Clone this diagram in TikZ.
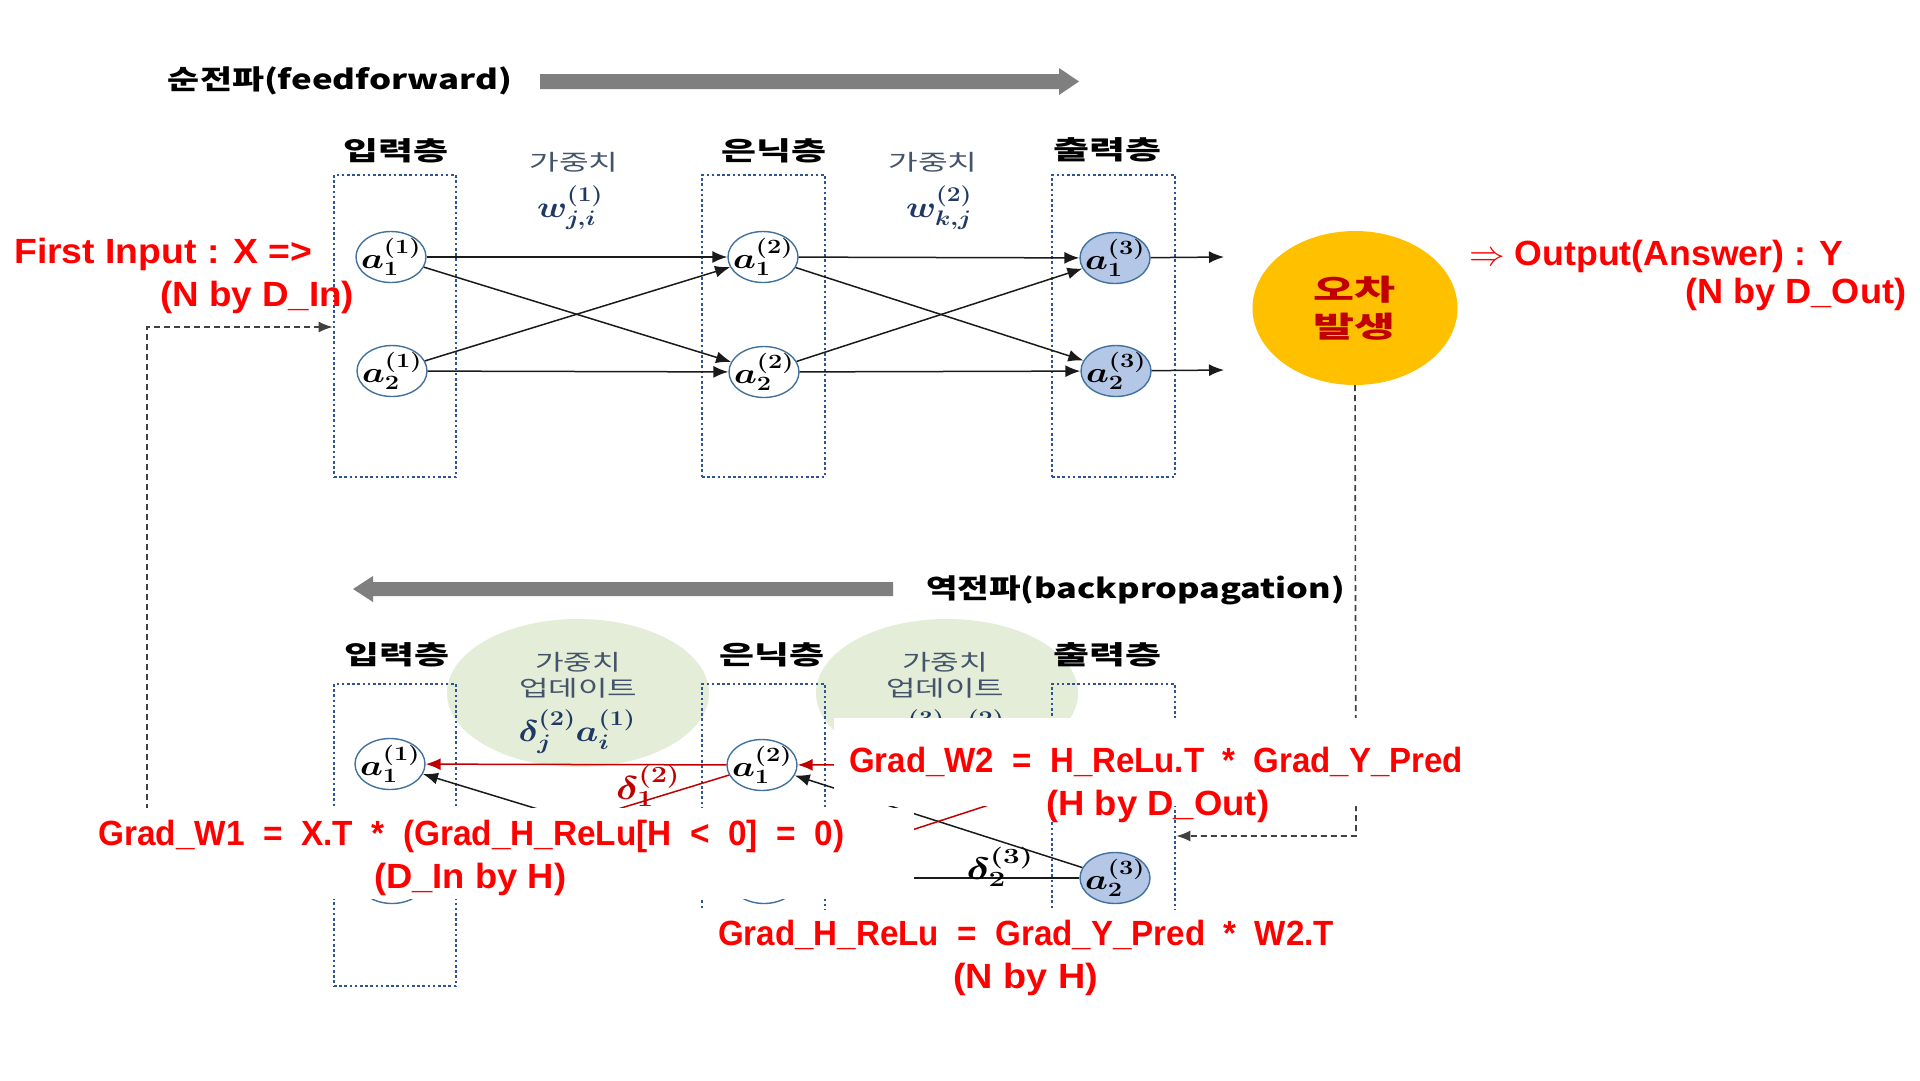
\RequirePackage{fix-cm}
\documentclass[tikz,border=0pt]{standalone}
\usepackage{amsmath,bm}
\usepackage{fontspec}
\usetikzlibrary{shapes.geometric,arrows.meta}
\newfontfamily\krf{Noto Sans CJK KR}
\newfontfamily\redf{Liberation Sans}
\newcommand\fw[2]{\resizebox{#1pt}{\height}{#2}}
\definecolor{boxc}{HTML}{2F5496}
\definecolor{nodeb}{HTML}{41719C}
\definecolor{outfill}{HTML}{B4C7E7}
\definecolor{greenf}{HTML}{E3EDD7}
\definecolor{grayc}{HTML}{7F7F7F}
\definecolor{wtext}{HTML}{44546A}
\definecolor{navy}{HTML}{1F3864}
\definecolor{yel}{HTML}{FFC000}
\definecolor{darkred}{HTML}{C00000}
\definecolor{redc}{HTML}{FF0000}
\definecolor{linec}{HTML}{1A1A1A}
\definecolor{dashc}{HTML}{404040}
\tikzset{
 nd/.style={ellipse, draw=nodeb, line width=1.4pt, fill=white, minimum width=70pt, minimum height=51pt, inner sep=0pt},
 ndo/.style={nd, fill=outfill},
 mlab/.style={inner sep=0pt, font=\fontsize{29}{31}\selectfont},
 lbox/.style={rectangle, draw=boxc, line width=2.6pt, dash pattern=on 2.6pt off 2.6pt, minimum width=122pt, minimum height=302pt, inner sep=0pt},
 conn/.style={draw=linec, line width=1.5pt, -{Latex[length=15pt,width=12pt]}},
 rconn/.style={conn, draw=darkred},
 laytxt/.style={inner sep=0pt, font=\krf\bfseries\fontsize{26}{30}\selectfont},
 wgt/.style={inner sep=0pt, text=wtext, font=\krf\fontsize{22}{26}\selectfont},
 wlab/.style={inner sep=0pt, text=navy, font=\fontsize{30}{32}\selectfont},
 redt/.style={inner sep=0pt, anchor=base west, text=redc, font=\redf\bfseries\fontsize{35}{40}\selectfont},
 dsh/.style={draw=dashc, line width=1.6pt, dash pattern=on 6pt off 4pt},
 dsharr/.style={dsh, -{Latex[length=14pt,width=11pt]}},
 gell/.style={ellipse, fill=greenf, minimum width=262pt, minimum height=148pt, inner sep=0pt},
 ttl/.style={inner sep=0pt, font=\krf\bfseries\fontsize{27}{30}\selectfont},
}
\begin{document}
\begin{tikzpicture}[x=1pt,y=-1pt]
\useasboundingbox (0,0) rectangle (1920,1080);
\fill[white] (0,0) rectangle (1920,1080);

% ---------- titles and big arrows ----------
\node[ttl] (ff) at (340,81) {\fw{344}{순전파(feedforward)}};
\fill[grayc] (540,74) -- (1059,74) -- (1059,68) -- (1079,81.5) -- (1059,95) -- (1059,89) -- (540,89) -- cycle;
\node[ttl] (bp) at (1135.5,590) {\fw{419}{역전파(backpropagation)}};
\fill[grayc] (893,582) -- (373,582) -- (373,576) -- (353,589) -- (373,602) -- (373,596) -- (893,596) -- cycle;

% ---------- green update ellipses ----------
\node[gell] (g1) at (578,693) {};
\node[gell] (g2) at (947,693) {};
\node[wgt] (g1a) at (578,662) {\fw{86}{가중치}};
\node[wgt] (g1b) at (578,688) {\fw{118}{업데이트}};
\node[wlab] (g1c) at (577,732) {\fw{117}{$\bm{\delta_j^{(2)}a_i^{(1)}}$}};
\node[wgt] (g2a) at (945,662) {\fw{86}{가중치}};
\node[wgt] (g2b) at (945,688) {\fw{118}{업데이트}};
\node[wlab] (g2c) at (946,732) {\fw{117}{$\bm{\delta_k^{(3)}a_j^{(2)}}$}};

% ---------- layer boxes ----------
\node[lbox] (ib1) at (395,326) {};
\node[lbox, minimum width=123pt] (hb1) at (763.5,326) {};
\node[lbox, minimum width=123pt] (ob1) at (1113.5,326) {};
\node[lbox] (ib2) at (395,835) {};
\node[lbox, minimum width=123pt] (hb2) at (763.5,835) {};
\node[lbox, minimum width=123pt] (ob2) at (1113.5,835) {};

% ---------- labels ----------
\node[laytxt] (L1) at (396,151) {\fw{105}{입력층}};
\node[laytxt] (L2) at (774,151) {\fw{105}{은닉층}};
\node[laytxt] (L3) at (1107,150) {\fw{108}{출력층}};
\node[laytxt] (L4) at (397,655) {\fw{105}{입력층}};
\node[laytxt] (L5) at (772,655) {\fw{105}{은닉층}};
\node[laytxt] (L6) at (1107,655) {\fw{108}{출력층}};
\node[wgt] (W1) at (574,162) {\fw{89}{가중치}};
\node[wgt] (W2) at (933,162) {\fw{89}{가중치}};
\node[wlab] (w1) at (570,208) {\fw{66}{$\bm{w_{j,i}^{(1)}}$}};
\node[wlab] (w2) at (939,208) {\fw{66}{$\bm{w_{k,j}^{(2)}}$}};

% ---------- top network ----------
\node[nd] (t11) at (391,257) {};
\node[nd] (t21) at (392,371) {};
\node[nd] (t12) at (763,257) {};
\node[nd] (t22) at (764,372) {};
\node[ndo] (t13) at (1115,258) {};
\node[ndo] (t23) at (1116,371) {};
\node[mlab] (t11l) at (t11) {\fw{60}{$\bm{a_1^{(1)}}$}};
\node[mlab] (t21l) at (t21) {\fw{60}{$\bm{a_2^{(1)}}$}};
\node[mlab] (t12l) at (t12) {\fw{60}{$\bm{a_1^{(2)}}$}};
\node[mlab] (t22l) at (t22) {\fw{60}{$\bm{a_2^{(2)}}$}};
\node[mlab] (t13l) at (t13) {\fw{60}{$\bm{a_1^{(3)}}$}};
\node[mlab] (t23l) at (t23) {\fw{60}{$\bm{a_2^{(3)}}$}};
\draw[conn] (t11) -- (t12);
\draw[conn] (t11) -- (t22);
\draw[conn] (t21) -- (t12);
\draw[conn] (t21) -- (t22);
\draw[conn] (t12) -- (t13);
\draw[conn] (t12) -- (t23);
\draw[conn] (t22) -- (t13);
\draw[conn] (t22) -- (t23);
\coordinate (o1) at (1224,257);
\coordinate (o2) at (1224,370);
\draw[conn] (t13) -- (o1);
\draw[conn] (t23) -- (o2);

% ---------- bottom network ----------
\node[nd] (b11) at (390,764) {};
\node[nd] (b21) at (392,878) {};
\node[nd] (b12) at (762,765) {};
\node[nd] (b22) at (764,878) {};
\node[ndo] (b13) at (1115,764) {};
\node[ndo] (b23) at (1115,878) {};
\node[mlab] (b11l) at (b11) {\fw{60}{$\bm{a_1^{(1)}}$}};
\node[mlab] (b21l) at (b21) {\fw{60}{$\bm{a_2^{(1)}}$}};
\node[mlab] (b12l) at (b12) {\fw{60}{$\bm{a_1^{(2)}}$}};
\node[mlab] (b22l) at (b22) {\fw{60}{$\bm{a_2^{(2)}}$}};
\node[mlab] (b13l) at (b13) {\fw{60}{$\bm{a_1^{(3)}}$}};
\node[mlab] (b23l) at (b23) {\fw{60}{$\bm{a_2^{(3)}}$}};
\draw[rconn] (b12) -- (b11);
\draw[conn] (b22) -- (b11);
\draw[rconn] (b12) -- (b21);
\draw[conn] (b22) -- (b21);
\draw[rconn] (b13) -- (b12);
\draw[conn] (b23) -- (b12);
\draw[rconn] (b13) -- (b22);
\draw[conn] (b23) -- (b22);
\node[inner sep=0pt, text=darkred, font=\fontsize{33}{35}\selectfont] (d12) at (648,786) {\fw{64}{$\bm{\delta_1^{(2)}}$}};
\node[inner sep=0pt, font=\fontsize{31}{33}\selectfont] (d23) at (1000,867) {\fw{67}{$\bm{\delta_2^{(3)}}$}};

% ---------- error ellipse and feedback ----------
\node[ellipse, fill=yel, minimum width=205pt, minimum height=154pt, inner sep=0pt] (err) at (1355,308) {};
\node[inner sep=0pt, text=darkred, font=\krf\bfseries\fontsize{29}{30}\selectfont] (errt1) at (1354,290) {\fw{82}{오차}};
\node[inner sep=0pt, text=darkred, font=\krf\bfseries\fontsize{29}{30}\selectfont] (errt2) at (1354,327) {\fw{82}{발생}};
\coordinate (dl0) at (147,860);
\coordinate (dl1) at (147,327);
\draw[dsharr] (dl0) -- (dl1) -- (dl1 -| ib1.west);
\coordinate (dr1) at (1356,836);
\draw[dsharr] (err.south) -- (dr1) -- (dr1 -| ob2.east);

% ---------- white overlay boxes ----------
\fill[white] (95,808) rectangle (914,899);
\fill[white] (834,718) rectangle (1470,806);
\fill[white] (695,910) rectangle (1340,1000);

% ---------- red annotations ----------
\node[redt] (r1) at (14,263) {\fw{298}{First Input : X =>}};
\node[redt] (r2) at (160,306) {\fw{194}{(N by D\_In)}};
\node[redt] (r3) at (1469,265) {\fw{374}{$\Rightarrow$ Output(Answer) : Y}};
\node[redt] (r4) at (1685,303) {\fw{221}{(N by D\_Out)}};
\node[redt] (r5) at (849,772) {\fw{614}{Grad\_W2 \ = \ H\_ReLu.T \ * \ Grad\_Y\_Pred}};
\node[redt] (r6) at (1046,815) {\fw{223}{(H by D\_Out)}};
\node[redt] (r7) at (98,845) {\fw{746}{Grad\_W1 \ = \ X.T \ * \ (Grad\_H\_ReLu[H \ < \ 0] \ = \ 0)}};
\node[redt] (r8) at (374,888) {\fw{192}{(D\_In by H)}};
\node[redt] (r9) at (718,945) {\fw{616}{Grad\_H\_ReLu \ = \ Grad\_Y\_Pred \ * \ W2.T}};
\node[redt] (r10) at (953,988) {\fw{145}{(N by H)}};
\end{tikzpicture}
\end{document}
